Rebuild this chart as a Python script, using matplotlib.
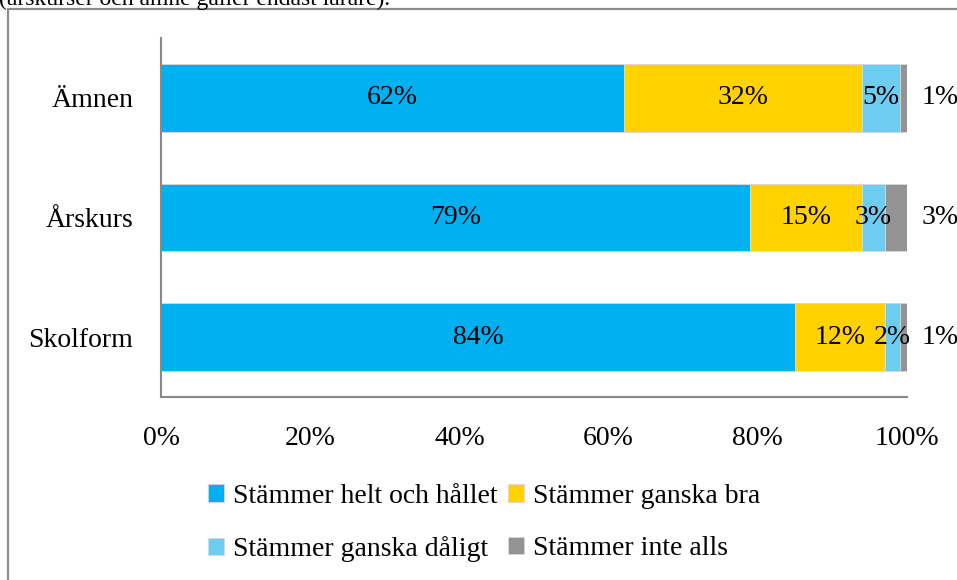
import matplotlib
matplotlib.use("Agg")
import matplotlib.pyplot as plt
from matplotlib.patches import Rectangle
import numpy as np

plt.rcParams['font.family'] = ['Liberation Serif', 'DejaVu Serif']

categories = ["Skolform", "Årskurs", "Ämnen"]
series_names = ["Stämmer helt och hållet", "Stämmer ganska bra",
                "Stämmer ganska dåligt", "Stämmer inte alls"]
helt = [85, 79, 62]
bra = [12, 15, 32]
daligt = [2, 3, 5]
inte = [1, 3, 1]
helt_lbl = ["84%", "79%", "62%"]
bra_lbl = ["12%", "15%", "32%"]
daligt_lbl = ["2%", "3%", "5%"]
inte_lbl = ["1%", "3%", "1%"]
xticks = [0, 20, 40, 60, 80, 100]
xtick_labels = ["0%", "20%", "40%", "60%", "80%", "100%"]
colors = ["#00B0F0", "#FFD200", "#6DCDF0", "#939396"]

W, H = 957, 580
fig = plt.figure(figsize=(W/100, H/100), dpi=100)
ax = fig.add_axes([161/W, 1-397/H, (907-161)/W, (397-38)/H])

y = np.arange(len(categories))
series = [helt, bra, daligt, inte]
labels = [helt_lbl, bra_lbl, daligt_lbl, inte_lbl]
left = np.zeros(len(categories))
bars = []
fs = 20
for i, (vals, lbls) in enumerate(zip(series, labels)):
    b = ax.barh(y, vals, left=left, height=0.567, color=colors[i],
                edgecolor="#d9d9d9", linewidth=0.6, label=series_names[i])
    bars.append(b)
    for j, v in enumerate(vals):
        if i < 3:
            ax.text(left[j] + v/2, y[j], lbls[j], ha='center', va='center', fontsize=fs)
        else:
            ax.text(104.4, y[j], lbls[j], ha='center', va='center', fontsize=fs,
                    clip_on=False)
    left = left + np.array(vals)

ax.set_xlim(0, 100)
ax.set_ylim(-0.5, 2.5)
ax.set_yticks(y)
ax.set_yticklabels(categories, fontsize=fs)
ax.set_xticks(xticks)
ax.set_xticklabels(xtick_labels, fontsize=fs)
ax.tick_params(axis='y', length=0, pad=20)
ax.tick_params(axis='x', length=0, pad=21)
for s in ['top', 'right']:
    ax.spines[s].set_visible(False)
for s in ['left', 'bottom']:
    ax.spines[s].set_color('#888888')
    ax.spines[s].set_linewidth(1.5)

handles = [bars[0], bars[2], bars[1], bars[3]]
names = [series_names[0], series_names[2], series_names[1], series_names[3]]
fig.legend(handles, names, loc='center', bbox_to_anchor=(484/W, 1-523/H),
           ncol=2, frameon=False, fontsize=fs, handlelength=0.58, handleheight=0.58,
           handletextpad=0.32, columnspacing=0.36, labelspacing=0.98,
           borderpad=0)

# outer frame (cropped)
fig.patches.append(Rectangle((8/W, -0.05), 1.1, 1-9/H+0.05, transform=fig.transFigure,
                             fill=False, edgecolor='#8c8c8c', linewidth=1.6, clip_on=False))
fig.text(-1/W, 1-5.5/H, "(årskurser och ämne gäller endast lärare).", fontsize=17,
         ha='left', va='baseline')

fig.savefig("out.png", dpi=100)
